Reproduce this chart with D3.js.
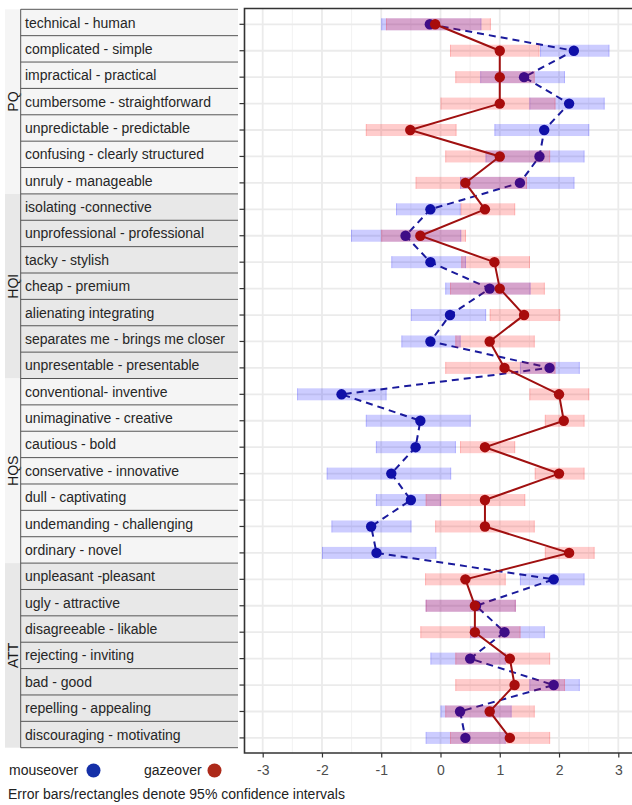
<!DOCTYPE html>
<html><head><meta charset="utf-8">
<script src="https://cdn.jsdelivr.net/npm/d3@7"></script>
<style>html,body{margin:0;padding:0;background:#fff;} svg{display:block;}</style>
</head><body>
<svg id="chart" width="632" height="805"></svg>
<script>
const labels = [
"technical - human","complicated - simple","impractical - practical","cumbersome - straightforward","unpredictable - predictable","confusing - clearly structured","unruly - manageable",
"isolating -connective","unprofessional - professional","tacky - stylish","cheap - premium","alienating integrating","separates me - brings me closer","unpresentable - presentable",
"conventional- inventive","unimaginative - creative","cautious - bold","conservative - innovative","dull - captivating","undemanding - challenging","ordinary - novel",
"unpleasant -pleasant","ugly - attractive","disagreeable - likable","rejecting - inviting","bad - good","repelling - appealing","discouraging - motivating"];
const groups = ["PQ","HQI","HQS","ATT"];
const groupSize = [7,7,7,7];

const mouseMean = [-0.18,2.25,1.41,2.17,1.75,1.67,1.34,-0.17,-0.59,-0.17,0.83,0.16,-0.17,1.84,-1.67,-0.34,-0.42,-0.83,-0.5,-1.17,-1.08,1.91,0.6,1.08,0.5,1.91,0.33,0.42];
const mouseLo   = [-1.0,1.68,0.67,1.5,0.91,0.76,0.33,-0.75,-1.51,-0.83,0.08,-0.5,-0.66,1.34,-2.42,-1.26,-1.09,-1.92,-1.09,-1.84,-2.0,1.34,-0.25,0.5,-0.17,1.5,0.0,-0.25];
const mouseHi   = [0.69,2.85,2.10,2.77,2.51,2.43,2.26,0.34,0.35,0.43,1.52,0.77,0.34,2.35,-0.91,0.51,0.26,0.18,0.01,-0.49,-0.07,2.43,1.27,1.76,1.1,2.35,1.2,1.1];

const gazeMean = [-0.09,1.0,1.0,1.0,-0.51,1.0,0.42,0.75,-0.34,0.91,1.0,1.41,0.83,1.08,2.0,2.08,0.75,2.0,0.75,0.75,2.17,0.42,0.58,0.58,1.17,1.25,0.83,1.17];
const gazeLo   = [-0.92,0.16,0.25,0.0,-1.26,0.08,-0.42,0.34,-1.0,0.35,0.16,0.83,0.25,0.08,1.5,1.76,0.33,1.59,-0.25,-0.09,1.76,-0.26,-0.25,-0.34,0.25,0.25,0.08,0.16];
const gazeHi   = [0.85,1.67,1.59,1.94,0.27,1.85,1.46,1.26,0.43,1.51,1.76,2.02,1.59,1.94,2.51,2.43,1.26,2.43,1.43,1.59,2.6,1.10,1.27,1.35,1.85,2.10,1.59,1.85];

const xTicks = [-3,-2,-1,0,1,2,3];
const xMinor = [-2.5,-1.5,-0.5,0.5,1.5,2.5,-3.5,3.5];
const seriesNames = ["mouseover","gazeover"];
const caption = "Error bars/rectangles denote 95% confidence intervals";

const FONT = "'Liberation Sans', Arial, Helvetica, sans-serif";
const svg = d3.select("#chart");
const n = labels.length;

const x = d3.scaleLinear().domain([-3,3]).range([262.7,618.3]);
const y = d3.scaleLinear().domain([0,n-1]).range([24.3, 24.3 + 26.43*(n-1)]);
const panel = {l:244.5, t:8.5, r:634, b:753};

const by = d3.scaleLinear().domain([0,n]).range([9.3, 747.7]);
const boxL = 20.7, boxR = 238, stripL = 5;

// ---- label panel
const groupStart = groupSize.map((s,i)=>d3.sum(groupSize.slice(0,i)));
const fills = ["#f5f5f5","#e8e8e8","#f5f5f5","#e8e8e8"];
const lp = svg.append("g");
groups.forEach((g,gi)=>{
  const s = groupStart[gi], e = s + groupSize[gi];
  lp.append("rect").attr("x",stripL).attr("y",by(s)).attr("width",boxR-stripL).attr("height",by(e)-by(s)).attr("fill",fills[gi]);
  lp.append("text").attr("transform",`translate(${13},${(by(s)+by(e))/2}) rotate(-90)`)
    .attr("text-anchor","middle").attr("dy","0.36em")
    .attr("font-family",FONT).attr("font-size",14).attr("fill","#1a1a1a").text(g);
});
d3.range(n+1).forEach(i=>{
  lp.append("line").attr("x1",boxL).attr("x2",boxR).attr("y1",by(i)).attr("y2",by(i))
    .attr("stroke","#555").attr("stroke-width",1);
});
lp.append("line").attr("x1",boxL).attr("x2",boxL).attr("y1",by(0)).attr("y2",by(n)).attr("stroke","#555").attr("stroke-width",1);
lp.selectAll("text.lab").data(labels).join("text").attr("class","lab")
  .attr("x",25).attr("y",(d,i)=>(by(i)+by(i+1))/2).attr("dy","0.36em")
  .attr("font-family",FONT).attr("font-size",14).attr("fill","#262626").text(d=>d);

// ---- plot panel
const pg = svg.append("g");
pg.append("rect").attr("x",panel.l).attr("y",panel.t).attr("width",panel.r-panel.l).attr("height",panel.b-panel.t).attr("fill","#fff");
pg.selectAll("line.minor").data(xMinor.filter(v=>x(v)>panel.l && x(v)<panel.r)).join("line")
  .attr("x1",d=>x(d)).attr("x2",d=>x(d)).attr("y1",panel.t).attr("y2",panel.b)
  .attr("stroke","#f2f2f2").attr("stroke-width",1);
pg.selectAll("line.majorx").data(xTicks).join("line")
  .attr("x1",d=>x(d)).attr("x2",d=>x(d)).attr("y1",panel.t).attr("y2",panel.b)
  .attr("stroke","#ebebeb").attr("stroke-width",1.8);
pg.selectAll("line.majory").data(d3.range(n)).join("line")
  .attr("x1",panel.l).attr("x2",panel.r).attr("y1",d=>y(d)).attr("y2",d=>y(d))
  .attr("stroke","#ebebeb").attr("stroke-width",1.8);

const idx = d3.range(n);
const rh = 12;
function drawSeries(mean, lo, hi, rectFill, edge, lineColor, dash, ptColor){
  const g = svg.append("g");
  g.selectAll("rect").data(idx).join("rect")
    .attr("x",i=>x(lo[i])).attr("width",i=>x(hi[i])-x(lo[i]))
    .attr("y",i=>y(i)-rh/2).attr("height",rh).attr("fill",rectFill);
  g.selectAll("line.e1").data(idx).join("line").attr("class","e1")
    .attr("x1",i=>x(lo[i])+0.5).attr("x2",i=>x(lo[i])+0.5).attr("y1",i=>y(i)-rh/2).attr("y2",i=>y(i)+rh/2)
    .attr("stroke",edge).attr("stroke-width",1);
  g.selectAll("line.e2").data(idx).join("line").attr("class","e2")
    .attr("x1",i=>x(hi[i])-0.5).attr("x2",i=>x(hi[i])-0.5).attr("y1",i=>y(i)-rh/2).attr("y2",i=>y(i)+rh/2)
    .attr("stroke",edge).attr("stroke-width",1);
  const line = d3.line().x(i=>x(mean[i])).y(i=>y(i));
  g.append("path").datum(idx).attr("d",line).attr("fill","none")
    .attr("stroke",lineColor).attr("stroke-width",2).attr("stroke-dasharray",dash);
  g.selectAll("circle").data(idx).join("circle")
    .attr("cx",i=>x(mean[i])).attr("cy",i=>y(i)).attr("r",5.2).attr("fill",ptColor);
}
drawSeries(mouseMean, mouseLo, mouseHi, "rgba(0,0,255,0.2)", "rgba(0,0,255,0.15)", "#1a1a9c", "7,5", "#1010a8");
drawSeries(gazeMean, gazeLo, gazeHi, "rgba(255,0,0,0.2)", "rgba(255,0,0,0.15)", "#a01010", null, "#a80c0c");

svg.append("path").attr("d",`M${panel.r},${panel.t}H${panel.l}V${panel.b}H${panel.r}`)
  .attr("fill","none").attr("stroke","#333").attr("stroke-width",1.6);

svg.selectAll("line.yt").data(idx).join("line").attr("class","yt")
  .attr("x1",239.5).attr("x2",panel.l).attr("y1",i=>y(i)).attr("y2",i=>y(i))
  .attr("stroke","#333").attr("stroke-width",1.2);

const xa = svg.append("g").attr("transform",`translate(0,${panel.b})`)
  .call(d3.axisBottom(x).tickValues(xTicks).tickSize(4.5).tickPadding(8).tickFormat(d=>String(d)));
xa.select(".domain").remove();
xa.selectAll(".tick line").attr("stroke","#333").attr("stroke-width",1.2);
xa.selectAll(".tick text").attr("font-family",FONT).attr("font-size",14).attr("fill","#4d4d4d");

const legColors = ["#1530a8","#ad2a1a"];
const lg = svg.append("g");
const legX = [9,144], dotX = [93.5,214.5];
seriesNames.forEach((s,i)=>{
  lg.append("text").attr("x",legX[i]).attr("y",775).attr("font-family",FONT).attr("font-size",14).attr("fill","#222").text(s);
  lg.append("circle").attr("cx",dotX[i]).attr("cy",770.5).attr("r",7).attr("fill",legColors[i]);
});
svg.append("text").attr("x",8).attr("y",799).attr("font-family",FONT).attr("font-size",14).attr("fill","#222").text(caption);
</script>
</body></html>
